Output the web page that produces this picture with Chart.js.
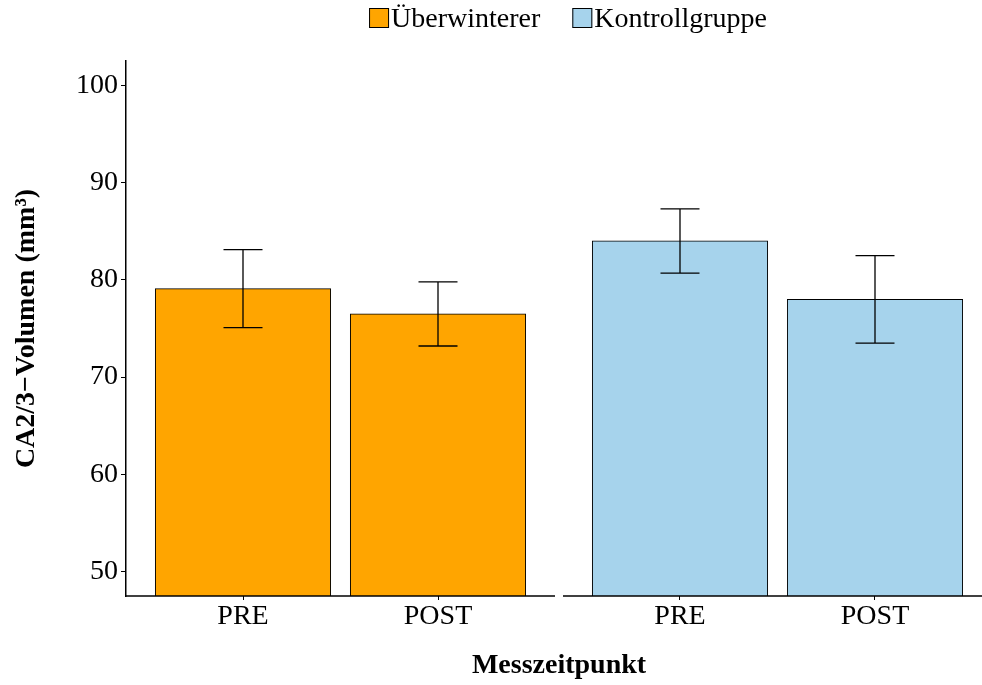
<!DOCTYPE html>
<html>
<head>
<meta charset="utf-8">
<script src="https://cdn.jsdelivr.net/npm/chart.js@4.4.0/dist/chart.umd.min.js"></script>
<style>
  body { margin: 0; overflow: hidden; background: #fff; }
</style>
</head>
<body>
<canvas id="barchart" width="992" height="685"></canvas>
<script>
// data
var groups = ['Überwinterer', 'Kontrollgruppe'];
var times = ['PRE', 'POST'];
var meanUeber = [79.1, 76.5];
var seUeber = [4.0, 3.3];
var meanKontroll = [84.0, 78.0];
var seKontroll = [3.3, 4.5];
var yTicks = [50, 60, 70, 80, 90, 100];
var colors = ['#FFA500', '#A6D3EC'];

var panelGap = 0.041; // space between the two facets (x units)
var panelSpan = 2.2;  // 0.4 .. 2.6 per facet

function xPos(g, i) {
    return g * (panelSpan + panelGap) + i + 1;
}

var means = [meanUeber, meanKontroll];
var ses = [seUeber, seKontroll];

var datasets = [];
var tickPos = [];
var tickLab = [];
for (var g in groups) {
    var pts = [];
    for (var i in times) {
        var x = xPos(+g, +i);
        pts.push({x: x, y: means[g][i], se: ses[g][i]});
        tickPos.push(x);
        tickLab.push(times[i]);
    }
    datasets.push({
        label: groups[g],
        data: pts,
        backgroundColor: colors[g],
        borderColor: '#000',
        borderWidth: 1,
        grouped: false,
        barThickness: 175.5
    });
}

var font = "'Liberation Serif', 'DejaVu Serif', serif";

var errorBars = {
    id: 'errorBars',
    afterDatasetsDraw: function(chart) {
        var ctx = chart.ctx;
        var xs = chart.scales.x, ys = chart.scales.y;
        var half = xs.getPixelForValue(0.1) - xs.getPixelForValue(0);
        ctx.save();
        ctx.strokeStyle = '#000';
        ctx.lineWidth = 1.3;
        chart.data.datasets.forEach(function(ds, di) {
            var meta = chart.getDatasetMeta(di);
            meta.data.forEach(function(bar, j) {
                var d = ds.data[j];
                var top = ys.getPixelForValue(d.y + d.se);
                var bot = ys.getPixelForValue(d.y - d.se);
                ctx.beginPath();
                ctx.moveTo(bar.x, top); ctx.lineTo(bar.x, bot);
                ctx.moveTo(bar.x - half, top); ctx.lineTo(bar.x + half, top);
                ctx.moveTo(bar.x - half, bot); ctx.lineTo(bar.x + half, bot);
                ctx.stroke();
            });
        });
        // bottom axis line, one per facet
        ctx.lineWidth = 1.5;
        var yb = chart.chartArea.bottom;
        for (var g = 0; g < groups.length; g++) {
            var off = g * (panelSpan + panelGap);
            ctx.beginPath();
            ctx.moveTo(xs.getPixelForValue(off + 0.4), yb);
            ctx.lineTo(xs.getPixelForValue(off + 0.4 + panelSpan), yb);
            ctx.stroke();
        }
        ctx.restore();
    }
};

var legendPlugin = {
    id: 'topLegend',
    afterDraw: function(chart) {
        var ctx = chart.ctx;
        ctx.save();
        ctx.font = '28px ' + font;
        ctx.textBaseline = 'alphabetic';
        var box = 20, gap = 2, space = 32;
        var ds = chart.data.datasets;
        var total = 0;
        ds.forEach(function(d, k) {
            total += box + gap + ctx.measureText(d.label).width + (k ? space : 0);
        });
        var x = 568 - total / 2;
        ds.forEach(function(d) {
            ctx.fillStyle = d.backgroundColor;
            ctx.fillRect(x, 8, box, box);
            ctx.strokeStyle = '#000';
            ctx.lineWidth = 1;
            ctx.strokeRect(x + 0.5, 8.5, box - 1, box - 1);
            ctx.fillStyle = '#000';
            ctx.fillText(d.label, x + box + gap, 27);
            x += box + gap + ctx.measureText(d.label).width + space;
        });
        ctx.restore();
    }
};

var ctx = document.getElementById('barchart');
var chart = new Chart(ctx, {
    type: 'bar',
    data: { datasets: datasets },
    options: {
        responsive: false,
        animation: false,
        layout: { padding: { top: 61, left: 0, right: 0, bottom: 0 } },
        plugins: {
            legend: { display: false },
            tooltip: { enabled: false }
        },
        scales: {
            x: {
                type: 'linear',
                offset: false,
                min: 0.4,
                max: 0.4 + 2 * panelSpan + panelGap,
                afterBuildTicks: function(scale) {
                    scale.ticks = tickPos.map(function(v) { return {value: v}; });
                },
                afterFit: function(scale) { scale.height = 89; },
                ticks: {
                    autoSkip: false,
                    maxRotation: 0,
                    padding: 0,
                    color: '#000',
                    font: { family: font, size: 28 },
                    callback: function(v, idx) { return tickLab[idx]; }
                },
                grid: { offset: false, drawOnChartArea: false, tickLength: 4, color: '#000', lineWidth: 1 },
                border: { display: false },
                title: {
                    display: true,
                    text: 'Messzeitpunkt',
                    color: '#000',
                    font: { family: font, size: 28, weight: 'bold' },
                    padding: { top: 2, bottom: 2 }
                }
            },
            y: {
                min: 47.5,
                max: 102.5,
                afterBuildTicks: function(scale) {
                    scale.ticks = yTicks.map(function(v) { return {value: v}; });
                },
                afterFit: function(scale) { scale.width = 126; },
                ticks: {
                    padding: 3,
                    color: '#000',
                    font: { family: font, size: 28 }
                },
                grid: { drawOnChartArea: false, tickLength: 5, color: '#000', lineWidth: 1 },
                border: { display: true, color: '#000', width: 1.5 },
                title: {
                    display: true,
                    text: 'CA2/3\u2212Volumen (mm\u00B3)',
                    color: '#000',
                    font: { family: font, size: 28, weight: 'bold' },
                    padding: { top: 10, bottom: 10 }
                }
            }
        }
    },
    plugins: [errorBars, legendPlugin]
});
</script>
</body>
</html>
